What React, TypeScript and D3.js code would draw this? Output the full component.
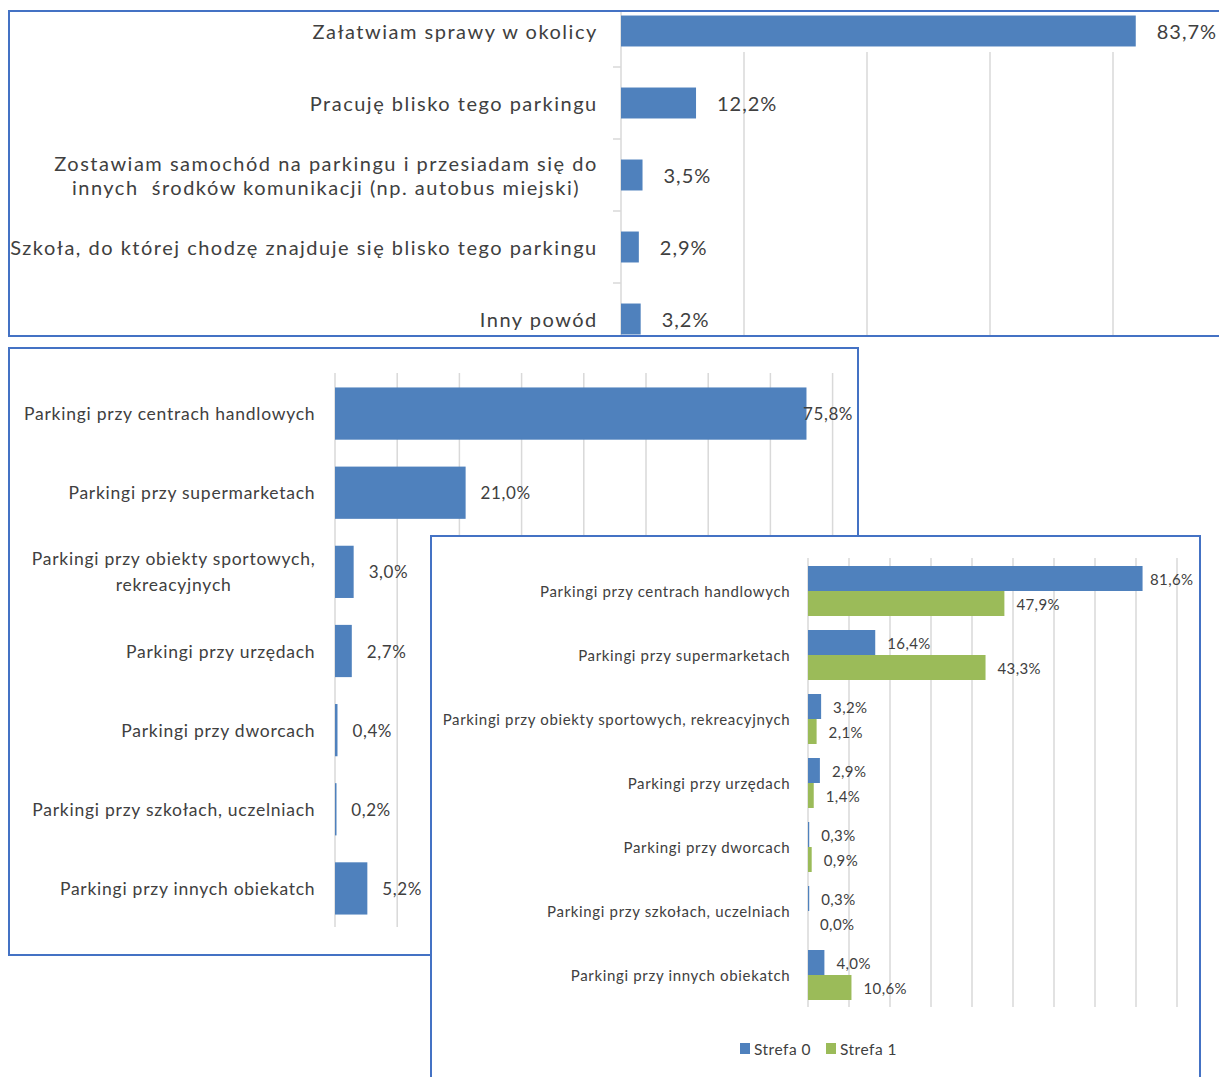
import React, { useEffect, useRef } from "react";
import * as d3 from "d3";

// ---------- DATA ----------
const reasonCategories = [
  "Załatwiam sprawy w okolicy",
  "Pracuję blisko tego parkingu",
  "Zostawiam samochód na parkingu i przesiadam się do\ninnych  środków komunikacji (np. autobus miejski)",
  "Szkoła, do której chodzę znajduje się blisko tego parkingu",
  "Inny powód",
];
const reasonValues = [83.7, 12.2, 3.5, 2.9, 3.2];
const reasonTicks = [0, 20, 40, 60, 80, 100];

const parkingCategories = [
  "Parkingi przy centrach handlowych",
  "Parkingi przy supermarketach",
  "Parkingi przy obiekty sportowych,\nrekreacyjnych",
  "Parkingi przy urzędach",
  "Parkingi przy dworcach",
  "Parkingi przy szkołach, uczelniach",
  "Parkingi przy innych obiekatch",
];
const parkingValues = [75.8, 21.0, 3.0, 2.7, 0.4, 0.2, 5.2];
const parkingTicks = [0, 10, 20, 30, 40, 50, 60, 70, 80];

const zoneCategories = [
  "Parkingi przy centrach handlowych",
  "Parkingi przy supermarketach",
  "Parkingi przy obiekty sportowych, rekreacyjnych",
  "Parkingi przy urzędach",
  "Parkingi przy dworcach",
  "Parkingi przy szkołach, uczelniach",
  "Parkingi przy innych obiekatch",
];
const zoneSeries = ["Strefa 0", "Strefa 1"];
const zone0Values = [81.6, 16.4, 3.2, 2.9, 0.3, 0.3, 4.0];
const zone1Values = [47.9, 43.3, 2.1, 1.4, 0.9, 0.0, 10.6];
const zoneTicks = [0, 10, 20, 30, 40, 50, 60, 70, 80, 90];

// ---------- STYLE ----------
const BLUE = "#4F81BD";
const GREEN = "#9BBB59";
const FRAME = "#4472C4";
const GRID = "#D9D9D9";
const TEXT = "#404040";
const FONT = "Lato, 'Open Sans', sans-serif";

const fmt = (v: number) => d3.format(".1f")(v).replace(".", ",") + "%";

function drawCategoryLabel(
  g: d3.Selection<SVGGElement, unknown, null, undefined>,
  label: string,
  xRight: number,
  yCenter: number,
  size: number,
  lineH: number,
  spacing: number
) {
  const lines = label.split("\n");
  const grp = g.append("g");
  const texts = lines.map((ln, i) =>
    grp
      .append("text")
      .attr("y", yCenter + (i - (lines.length - 1) / 2) * lineH)
      .attr("dominant-baseline", "central")
      .attr("text-anchor", "middle")
      .attr("font-size", size)
      .attr("font-family", FONT)
      .attr("fill", TEXT)
      .attr("letter-spacing", spacing)
      .style("white-space", "pre")
      .text(ln)
  );
  const widths = texts.map((t) => (t.node() as SVGTextElement).getComputedTextLength());
  const maxW = d3.max(widths) || 0;
  texts.forEach((t) => t.attr("x", xRight - maxW / 2 + spacing / 2));
}

export default function App() {
  const ref = useRef<SVGSVGElement>(null);

  useEffect(() => {
    const svg = d3.select(ref.current);
    svg.selectAll("*").remove();

    // ===== Chart 1 =====
    {
      const defs = svg.append("defs");
      defs.append("clipPath").attr("id", "c1clip").append("rect").attr("x", 9).attr("y", 11).attr("width", 1220).attr("height", 325);
      const g = svg.append("g");
      g.append("rect").attr("x", 9).attr("y", 11).attr("width", 1230).attr("height", 325).attr("fill", "#fff");
      const inner = g.append("g").attr("clip-path", "url(#c1clip)");
      const x = d3.scaleLinear().domain([0, 100]).range([621, 621 + 615]);
      const y = d3.scaleBand<string>().domain(reasonCategories).range([-5, 355]).paddingInner(0.57).paddingOuter(0.285);
      inner
        .selectAll("line.grid")
        .data(reasonTicks.slice(1))
        .enter()
        .append("line")
        .attr("x1", (d) => x(d))
        .attr("x2", (d) => x(d))
        .attr("y1", 52)
        .attr("y2", 340)
        .attr("stroke", GRID)
        .attr("stroke-width", 1.5);
      inner.append("line").attr("x1", x(0)).attr("x2", x(0)).attr("y1", -4).attr("y2", 340).attr("stroke", GRID).attr("stroke-width", 1.5);
      reasonCategories.slice(1).forEach((c) => {
        const yy = (y(c) as number) - (y.step() - y.bandwidth()) / 2;
        inner.append("line").attr("x1", x(0) - 8).attr("x2", x(0)).attr("y1", yy).attr("y2", yy).attr("stroke", GRID).attr("stroke-width", 1.5);
      });
      reasonCategories.forEach((c, i) => {
        const by = y(c) as number;
        inner.append("rect").attr("x", x(0)).attr("y", by).attr("width", x(reasonValues[i]) - x(0)).attr("height", y.bandwidth()).attr("fill", BLUE);
        inner
          .append("text")
          .attr("x", x(reasonValues[i]) + 21)
          .attr("y", by + y.bandwidth() / 2)
          .attr("dominant-baseline", "central")
          .attr("font-size", 20)
          .attr("font-family", FONT)
          .attr("letter-spacing", 1)
          .attr("fill", TEXT)
          .text(fmt(reasonValues[i]));
        drawCategoryLabel(inner as any, c, 597, by + y.bandwidth() / 2, 20, 24, 1.5);
      });
      g.append("rect").attr("x", 9).attr("y", 11).attr("width", 1230).attr("height", 325).attr("fill", "none").attr("stroke", FRAME).attr("stroke-width", 2);
    }

    // ===== Chart 2 =====
    {
      const g = svg.append("g");
      g.append("rect").attr("x", 9).attr("y", 348).attr("width", 849).attr("height", 607).attr("fill", "#fff").attr("stroke", FRAME).attr("stroke-width", 2);
      const x = d3.scaleLinear().domain([0, 80]).range([335, 335 + 497.6]);
      const y = d3.scaleBand<string>().domain(parkingCategories).range([374, 928]).paddingInner(0.34).paddingOuter(0.17);
      g.selectAll("line.grid")
        .data(parkingTicks)
        .enter()
        .append("line")
        .attr("x1", (d) => x(d))
        .attr("x2", (d) => x(d))
        .attr("y1", 373)
        .attr("y2", 927)
        .attr("stroke", GRID)
        .attr("stroke-width", 1.5);
      parkingCategories.forEach((c, i) => {
        const by = y(c) as number;
        const v = parkingValues[i];
        g.append("rect").attr("x", x(0)).attr("y", by).attr("width", Math.max(x(v) - x(0), 1.5)).attr("height", y.bandwidth()).attr("fill", BLUE);
        g.append("text")
          .attr("x", Math.min(x(v) + 15, 803))
          .attr("y", by + y.bandwidth() / 2)
          .attr("dominant-baseline", "central")
          .attr("font-size", 17)
          .attr("font-family", FONT)
          .attr("letter-spacing", 0.6)
          .attr("fill", TEXT)
          .text(fmt(v));
        drawCategoryLabel(g as any, c, 315, by + y.bandwidth() / 2, 17.5, 26, 0.75);
      });
    }

    // ===== Chart 3 =====
    {
      const g = svg.append("g");
      g.append("rect").attr("x", 431).attr("y", 536).attr("width", 769).attr("height", 600).attr("fill", "#fff").attr("stroke", FRAME).attr("stroke-width", 2);
      const x = d3.scaleLinear().domain([0, 90]).range([808, 808 + 369]);
      const y0 = d3.scaleBand<string>().domain(zoneCategories).range([559, 1007]);
      const y1 = d3.scaleBand<string>().domain(zoneSeries).range([7, y0.step() - 7]);
      g.selectAll("line.grid")
        .data(zoneTicks)
        .enter()
        .append("line")
        .attr("x1", (d) => x(d))
        .attr("x2", (d) => x(d))
        .attr("y1", 558)
        .attr("y2", 1007)
        .attr("stroke", GRID)
        .attr("stroke-width", 1.5);
      const seriesValues = [zone0Values, zone1Values];
      const seriesColors = [BLUE, GREEN];
      zoneCategories.forEach((c, i) => {
        const gy = y0(c) as number;
        zoneSeries.forEach((s, j) => {
          const v = seriesValues[j][i];
          const by = gy + (y1(s) as number);
          if (v > 0)
            g.append("rect").attr("x", x(0)).attr("y", by).attr("width", Math.max(x(v) - x(0), 1.2)).attr("height", y1.bandwidth()).attr("fill", seriesColors[j]);
          g.append("text")
            .attr("x", Math.min(x(v) + 12, 1150))
            .attr("y", by + y1.bandwidth() / 2)
            .attr("dominant-baseline", "central")
            .attr("font-size", 15)
            .attr("font-family", FONT)
            .attr("letter-spacing", 0.4)
            .attr("fill", TEXT)
            .text(fmt(v));
        });
        drawCategoryLabel(g as any, c, 790, gy + y0.step() / 2, 15, 20, 0.66);
      });
      // legend
      const legendX = [740, 826];
      zoneSeries.forEach((s, j) => {
        g.append("rect").attr("x", legendX[j]).attr("y", 1043).attr("width", 10).attr("height", 11).attr("fill", seriesColors[j]);
        g.append("text")
          .attr("x", legendX[j] + 14)
          .attr("y", 1048.5)
          .attr("dominant-baseline", "central")
          .attr("font-size", 15.5)
          .attr("font-family", FONT)
          .attr("letter-spacing", 0.5)
          .attr("fill", TEXT)
          .text(s);
      });
    }
  }, []);

  return (
    <svg
      ref={ref}
      width={1219}
      height={1077}
      style={{ position: "absolute", left: 0, top: 0, background: "#fff" }}
    />
  );
}
